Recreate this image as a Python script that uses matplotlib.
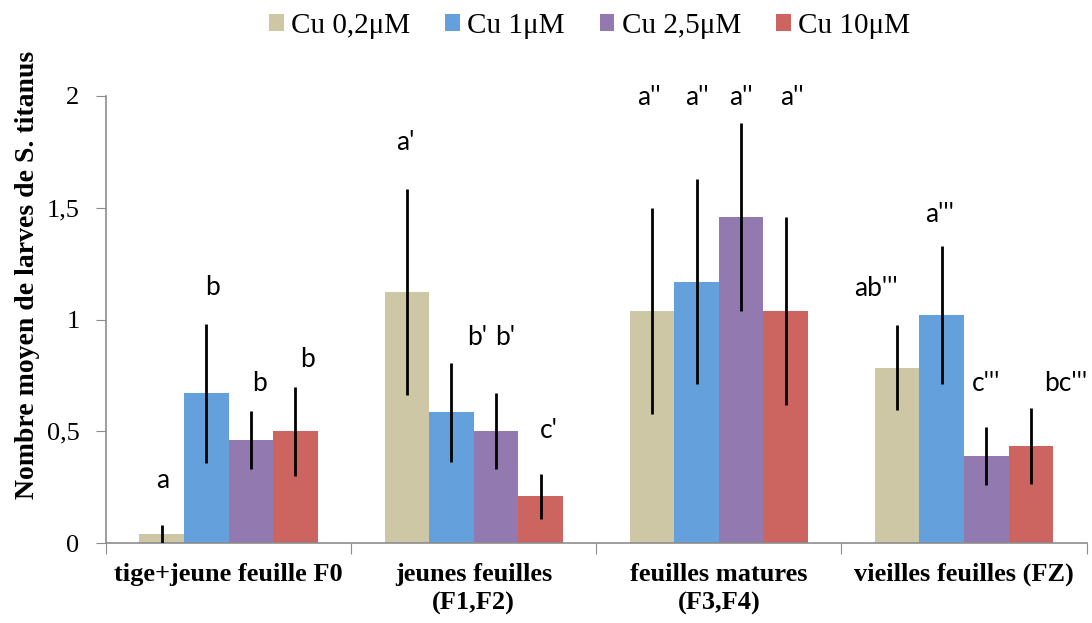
import numpy as np
from matplotlib import pyplot as plt
from matplotlib.ticker import FixedLocator

groups = ['tige+jeune feuille F0', 'jeunes feuilles\n(F1,F2)',
          'feuilles matures\n(F3,F4)', 'vieilles feuilles (FZ)']
series = ['Cu 0,2\u03bcM', 'Cu 1\u03bcM', 'Cu 2,5\u03bcM', 'Cu 10\u03bcM']
colors = ['#cdc7a5', '#63a0dc', '#927ab0', '#cc6560']

# mean values, one list per concentration (order of groups)
cu02 = [0.04, 1.125, 1.04, 0.785]
cu1 = [0.67, 0.585, 1.17, 1.02]
cu25 = [0.46, 0.50, 1.46, 0.39]
cu10 = [0.50, 0.21, 1.04, 0.435]

# error bar half-lengths
err02 = [0.04, 0.46, 0.46, 0.19]
err1 = [0.31, 0.22, 0.46, 0.31]
err25 = [0.13, 0.17, 0.42, 0.13]
err10 = [0.20, 0.10, 0.42, 0.17]

# significance letters
let02 = ['a', "a'", "a''", "ab'''"]
let1 = ['b', "b'", "a''", "a'''"]
let25 = ['b', "b'", "a''", "c'''"]
let10 = ['b', "c'", "a''", "bc'''"]

# label heights (data units) and horizontal shift (in bar widths)
lab_y = [[0.28, 1.79, 1.995, 1.14],
         [1.145, 0.92, 1.995, 1.47],
         [0.715, 0.92, 1.995, 0.715],
         [0.82, 0.505, 1.995, 0.715]]
lab_dx = [[0.02, -0.04, -0.07, -0.48],
          [0.13, 0.57, 0.0, -0.04],
          [0.2, 0.21, 0.0, 0.0],
          [0.28, 0.18, 0.13, 0.79]]

means = [cu02, cu1, cu25, cu10]
errs = [err02, err1, err25, err10]
letters = [let02, let1, let25, let10]

fig = plt.figure(figsize=(10.92, 6.23), dpi=100)
ax = fig.add_axes([0.097, 0.128, 0.898, 0.718])

x = np.arange(len(groups))
w = 1 / 5.5
for i in range(4):
    pos = x + (i - 1.5) * w
    ax.bar(pos, means[i], width=w, color=colors[i], label=series[i], zorder=2)
    ax.errorbar(pos, means[i], yerr=errs[i], fmt='none', ecolor='black',
                elinewidth=2, capsize=0, zorder=3)
    for j in range(len(groups)):
        ax.text(pos[j] + lab_dx[i][j] * w, lab_y[i][j], letters[i][j],
                ha='center', va='center', fontsize=19, family='Lato')

ax.set_xlim(-0.5, 3.5)
ax.set_ylim(0, 2)
ax.set_yticks([0, 0.5, 1, 1.5, 2])
ax.set_yticklabels(['0', '0,5', '1', '1,5', '2'], family='Liberation Serif', fontsize=19)
ax.xaxis.set_major_locator(FixedLocator([-0.5, 0.5, 1.5, 2.5, 3.5]))
ax.xaxis.set_minor_locator(FixedLocator(x))
ax.set_xticklabels([])
ax.set_xticklabels(groups, minor=True, family='Liberation Serif', fontsize=19,
                   fontweight='bold', linespacing=1.3)
ax.tick_params(axis='x', which='minor', length=0, pad=14)
ax.tick_params(axis='x', which='major', length=8, color='#8c8c8c')
ax.tick_params(axis='y', length=7, color='#8c8c8c', pad=12)
for s in ['top', 'right']:
    ax.spines[s].set_visible(False)
for s in ['left', 'bottom']:
    ax.spines[s].set_color('#8c8c8c')
    ax.spines[s].set_linewidth(1.2)

ax.set_ylabel('Nombre moyen de larves de S. titanus', family='Liberation Serif',
              fontsize=20, fontweight='bold')
ax.yaxis.set_label_coords(-0.067, 0.6)

fig.legend(loc='upper center', bbox_to_anchor=(0.54, 1.022), ncol=4, frameon=False,
           prop={'family': 'Liberation Serif', 'size': 21}, handlelength=0.5,
           handleheight=0.5, handletextpad=0.25, columnspacing=1.2)

fig.savefig('out.png')
